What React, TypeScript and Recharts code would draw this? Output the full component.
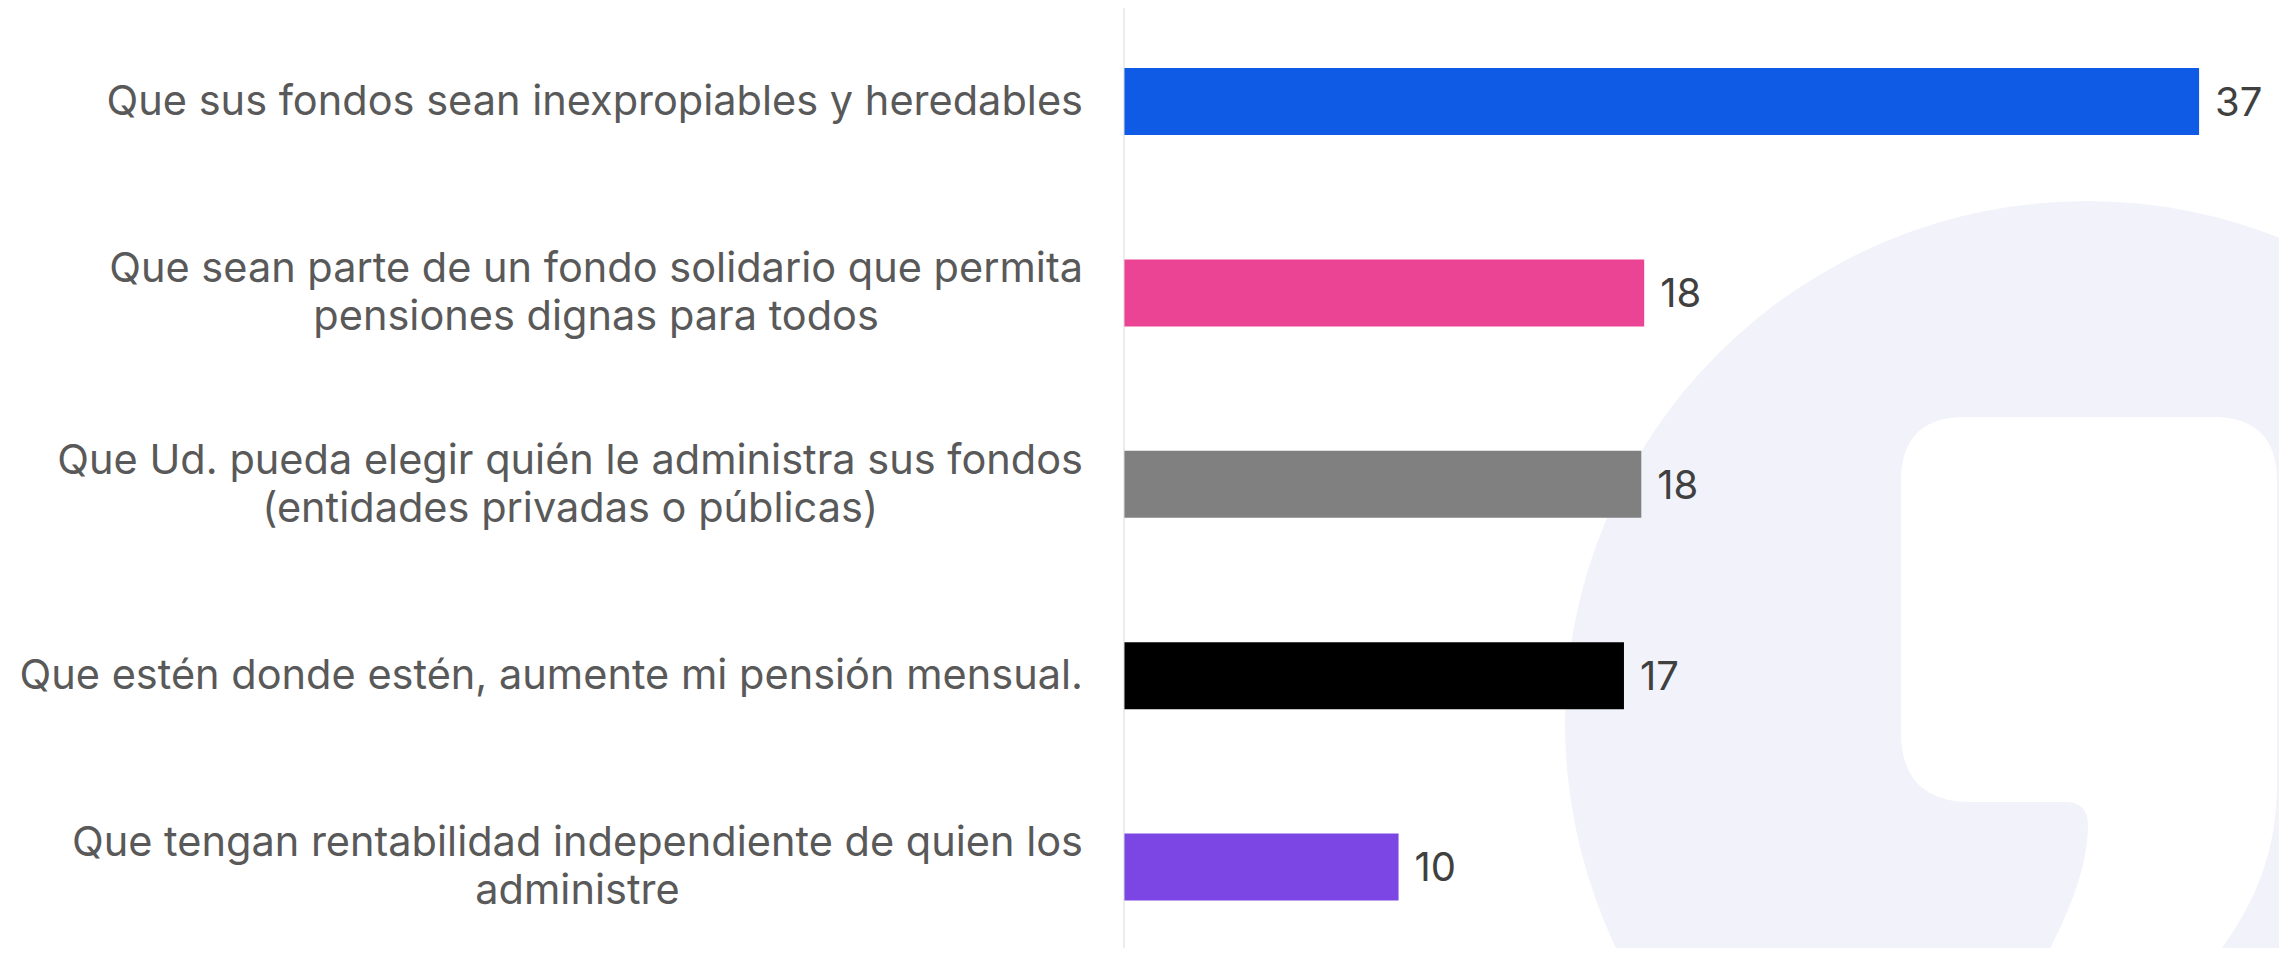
import React from "react";
import { BarChart, Bar, XAxis, YAxis, Cell, LabelList } from "recharts";

const categories = [
  "Que sus fondos sean inexpropiables y heredables",
  "Que sean parte de un fondo solidario que permita\npensiones dignas para todos",
  "Que Ud. pueda elegir quién le administra sus fondos\n(entidades privadas o públicas)",
  "Que estén donde estén, aumente mi pensión mensual.",
  "Que tengan rentabilidad independiente de quien los\nadministre",
];
const values = [37.2, 18.0, 17.9, 17.3, 9.5];
const colors = ["#105BE6", "#EC4495", "#808080", "#000000", "#7B46E3"];

const data = categories.map((name, i) => ({ name, value: values[i], color: colors[i] }));

const FONT = "Inter, 'Noto Sans', sans-serif";
const FONT_SIZE = 41.5;
const VALUE_FONT_SIZE = 40;
const LINE_H = 48;

let ctx: CanvasRenderingContext2D | null = null;
function textWidth(s: string): number {
  if (!ctx && typeof document !== "undefined") {
    ctx = document.createElement("canvas").getContext("2d");
  }
  if (!ctx) return s.length * FONT_SIZE * 0.5;
  ctx.font = `${FONT_SIZE}px ${FONT}`;
  return ctx.measureText(s).width;
}

const CatTick = (props: any) => {
  const { x, y, payload } = props;
  const lines = String(payload.value).split("\n");
  const w = Math.max(...lines.map(textWidth));
  const cx = x - w / 2;
  return (
    <text textAnchor="middle" fill="#595959" fontSize={FONT_SIZE} fontFamily={FONT}>
      {lines.map((l, i) => (
        <tspan key={i} x={cx} y={y + 13 + (i - (lines.length - 1) / 2) * LINE_H}>
          {l}
        </tspan>
      ))}
    </text>
  );
};

const Watermark = () => (
  <svg width={2287} height={956} style={{ position: "absolute", left: 0, top: 0 }}>
    <circle cx={2087} cy={723} r={522} fill="#F2F3FA" />
    <path
      d="M 1901 481 Q 1901 417 1965 417 L 2213 417 Q 2277 417 2277 481 L 2277 783 C 2277 860 2250 915 2205 970 L 2038 970 C 2070 915 2088 865 2088 825 Q 2088 802 2065 802 L 1971 802 Q 1901 802 1901 732 Z"
      fill="#FFFFFF"
    />
  </svg>
);

export default function App() {
  return (
    <div
      style={{
        position: "relative",
        margin: -8,
        width: 2287,
        height: 956,
        overflow: "hidden",
        background: "#FFFFFF",
      }}
    >
      <Watermark />
      <div style={{ position: "absolute", left: 0, top: 0 }}>
        <BarChart
          width={2287}
          height={965}
          data={data}
          layout="vertical"
          margin={{ top: 6, right: 7, bottom: 2, left: 0 }}
        >
          <XAxis type="number" domain={[0, 40]} hide />
          <YAxis
            type="category"
            dataKey="name"
            width={1124}
            axisLine={{ stroke: "#D9D9D9" }}
            tickLine={false}
            tickSize={0}
            tickMargin={41}
            tick={<CatTick />}
            interval={0}
          />
          <Bar dataKey="value" barSize={67} isAnimationActive={false}>
            {data.map((d, i) => (
              <Cell key={i} fill={d.color} />
            ))}
            <LabelList
              dataKey="value"
              position="right"
              offset={16}
              formatter={(v: any) => Math.round(Number(v))}
              fill="#404040"
              fontSize={VALUE_FONT_SIZE}
              fontFamily={FONT}
            />
          </Bar>
        </BarChart>
      </div>
    </div>
  );
}
